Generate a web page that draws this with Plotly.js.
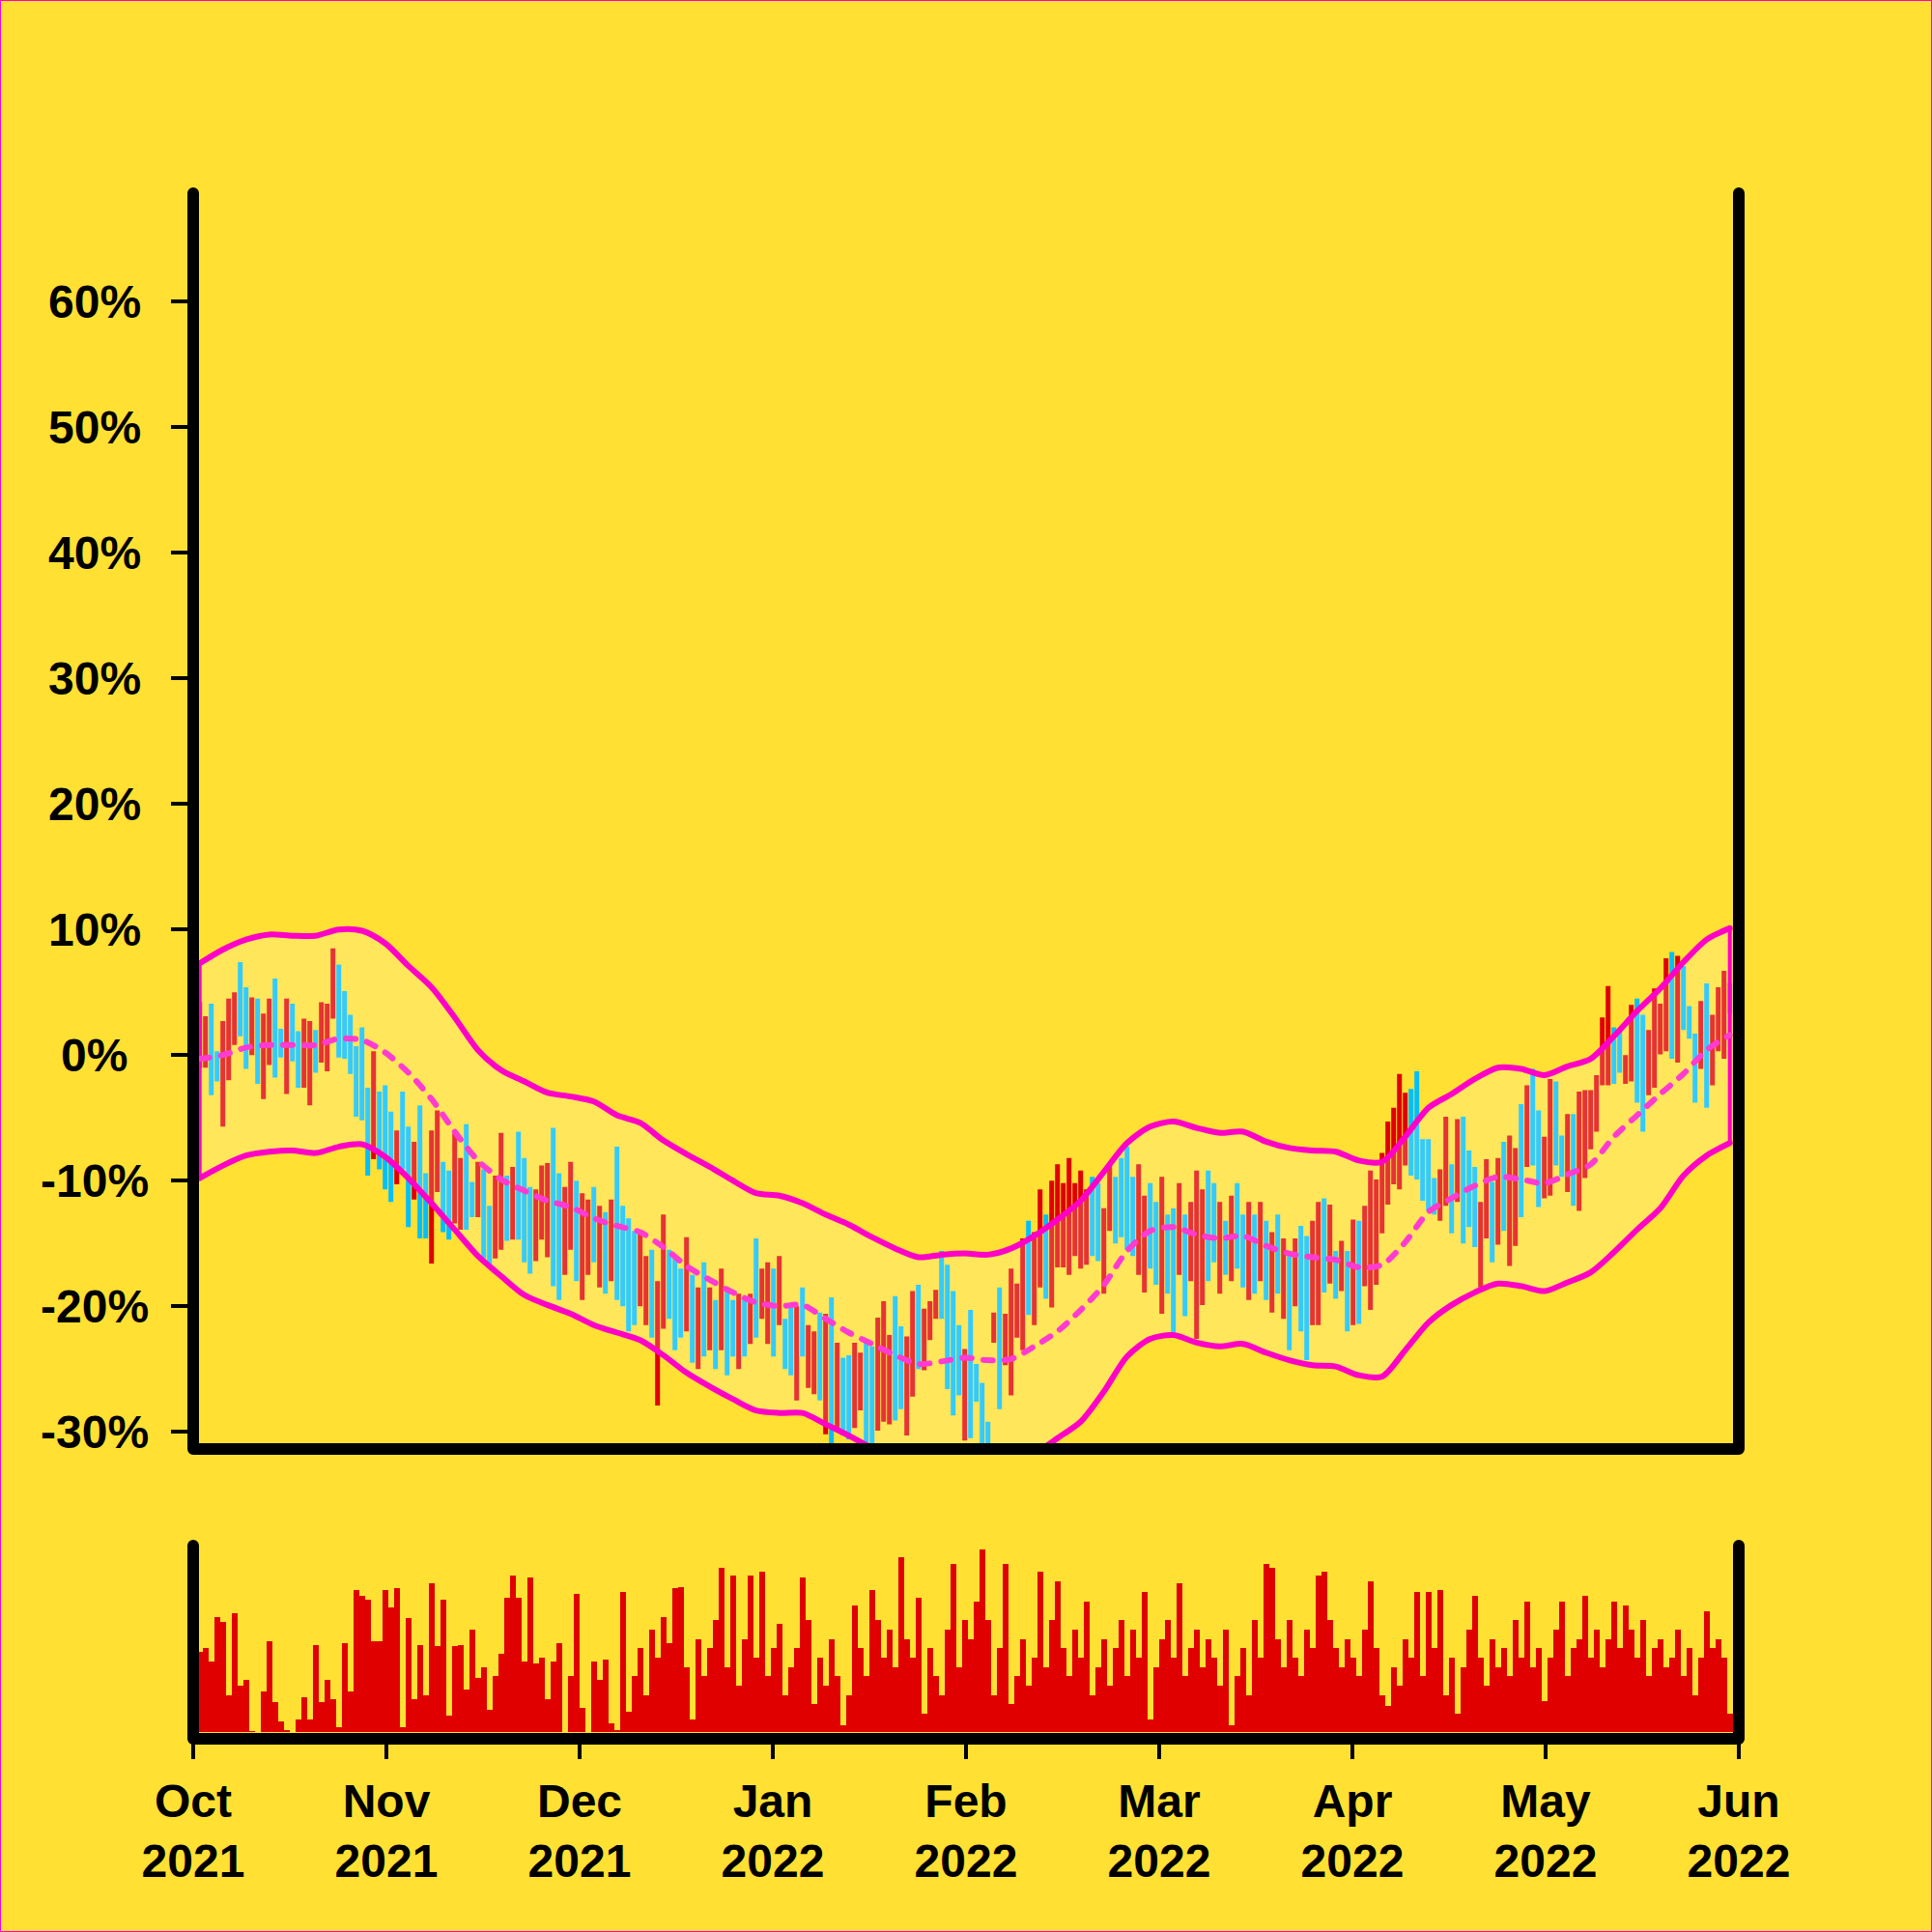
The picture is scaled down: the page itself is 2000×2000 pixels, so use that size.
<!DOCTYPE html>
<html><head><meta charset="utf-8">
<script src="https://cdn.plot.ly/plotly-3.0.1.min.js"></script>
<style>
html,body{margin:0;padding:0;background:#FFE033;}
#wrap{position:relative;width:2000px;height:2000px;}
#chart{width:2000px;height:2000px;}
#frame{position:absolute;left:0;top:0;width:2000px;height:2000px;box-sizing:border-box;border:1px solid #FF00CC;pointer-events:none;}
</style>
</head><body><div id="wrap"><div id="chart"></div><div id="frame"></div></div>
<script>
// ---------------- data (bar index 0..264) ----------------
const openP = [0.5,0.0,2.0,0.0,-1.5,-0.5,1.5,5.5,3.5,1.0,2.5,-1.0,0.5,4.0,1.5,-1.0,3.0,0.5,-1.0,-1.5,1.0,1.0,1.0,4.0,5.5,3.5,2.0,-0.5,0.5,-4.5,-6.0,-4.5,-4.5,-6.5,-9.0,-4.5,-7.0,-10.5,-6.0,-10.5,-13.5,-9.5,-9.5,-10.5,-12.0,-12.5,-7.5,-10.5,-12.0,-10.5,-12.5,-15.0,-13.0,-10.5,-13.5,-8.0,-9.5,-11.5,-15.5,-13.5,-14.5,-8.0,
 -10.5,-16,-14,-11,-18,-16.5,-11.5,-17.5,-13.5,-17,-10,-13,-14.5,-15,-19,-20.5,-16.5,-25,-20,-16.5,-17,-18,-21,-18.5,-24,-17.5,-22.5,-20.5,-22.5,-19.5,-20,-24,-20.5,-22.5,-16,-20.5,-22,-18,-21,-21.5,-21,-26.5,-19.5,-26,-26.5,-21,
 -28.5,-20.5,-28.5,-25,-25,-28.5,-27.5,-24,-24.5,-28.5,-27.5,-28,-20.5,-22.5,-29,-26,-19,-24.5,-22.5,-20.5,-16.5,-17.5,-19.5,-22,-29.5,-21.5,-25,-26.5,-29.5,-22.5,-19.5,-24,-26,-22,
 -22.5,-14,-20.5,-17.5,-13.5,-19,-16,-16,-16.5,-15,-16,-16,-10.5,-11,-18,-13.5,-10.5,-9,-8,-10.5,-16.5,-18,-11,-12.5,-19.5,-13.5,-13,-16.5,-13.5,-17,-21.5,-19,-10,-11,-18,-14,-17,-11,-13.5,-18.5,-13.5,-17,-14,-19.5,-13.5,-20,-16.5,-19,-14.5,
 -15.5,-20.5,-20,-12.5,-17.5,-16,-18.5,-16,-20.5,-14,-18,-18.5,-16,-13,-11,-9.5,-8,-7.5,-4,-3,-7.5,-8,-10,-12.5,-10.5,-9.5,-10.5,-6.5,-8.5,-10,-17.5,-13.5,-11,-14,-8,-15,-14,-5,-8,-2.5,-5.5,-10.5,-9.5,-3,-7,-10,-5.5,-11,-9,-7,-5.5,-1.5,-1.5,1.5,1.5,-2,-1,3.5,
 2,-2.5,-1.5,1,1.5,6,1,6,3.5,1,0,3.5,-1.5,1.5,1,5];
const highP = [4.2,3.1,4.1,0.3,2.7,4.5,5.0,7.4,5.4,4.6,4.5,3.3,4.5,6.1,2.1,4.5,4.1,1.9,2.9,2.7,2.0,4.2,4.1,8.5,7.2,5.1,3.2,0.7,2.2,-2.6,0.3,-2.9,-2.4,-4.5,-6.0,-2.9,-5.7,-6.9,-4.0,-9.4,-6.0,-4.4,-8.5,-9.2,-6.0,-8.2,-5.5,-10.1,-8.5,-9.1,-12.0,-9.6,-6.2,-9.6,-8.9,-6.1,-8.2,-10.5,-10.7,-8.8,-8.6,-5.8,
 -9.4,-10.5,-8.5,-10,-11,-11.5,-10.5,-12,-12.5,-11.5,-7.3,-12,-13,-14,-14,-16,-15.5,-18,-12.7,-15.5,-16,-17,-14.5,-17.5,-18.5,-16.5,-18.5,-19.5,-17,-18.5,-19.5,-19,-19.5,-19,-14.6,-17,-16.5,-17,-16,-21,-20,-20,-18.5,-21.5,-22,-20.5,
 -20.6,-19.3,-22.9,-24.1,-23.9,-22.9,-23.7,-22.8,-23.2,-20.9,-19.6,-22.3,-19.2,-21.6,-22.4,-18.8,-18.3,-20.2,-19.6,-18.7,-15.6,-16.7,-18.8,-21.5,-23.4,-20.3,-24.6,-26.1,-29.2,-20.5,-18.5,-20.6,-17.0,-18.2,
 -14.6,-13.2,-14.1,-10.7,-12.7,-10.0,-8.7,-10.2,-8.2,-10.2,-9.2,-10.7,-9.7,-10.2,-12.2,-8.7,-9.7,-8.2,-7.3,-9.7,-8.7,-11.2,-10.2,-11.7,-9.7,-12.7,-12.2,-10.2,-12.7,-11.7,-9.2,-10.7,-9.2,-10.2,-11.7,-13.2,-11.2,-10.2,-12.7,-11.7,-12.7,-11.7,-13.2,-14.1,-12.7,-14.6,-15.6,-14.6,-13.6,
 -14.4,-13.2,-11.7,-11.4,-11.9,-15.6,-14.8,-15.6,-13.1,-13.2,-12.0,-9.2,-9.9,-7.8,-5.3,-4.2,-1.5,-3.0,-2.7,-1.3,-6.7,-6.7,-9.8,-9.1,-4.9,-8.7,-5.1,-4.9,-7.6,-8.9,-11.7,-8.3,-10.1,-8.2,-6.9,-6.4,-7.4,-3.9,-2.4,-1.1,-4.4,-6.5,-1.9,-2.1,-6.4,-4.7,-4.7,-2.9,-2.8,-2.8,-1.6,3.0,5.5,2.2,2.0,0.0,4.0,4.5,
 3.2,2.0,5.3,4.1,7.7,8.2,7.9,7.1,3.9,1.7,4.3,5.7,3.2,5.4,6.7,5.7];
const lowP = [-1.0,-1.0,-3.2,-2.1,-5.7,-2.0,0.8,1.5,-1.1,0.0,-2.3,-3.5,-0.8,-1.8,-0.2,-3.1,-0.5,-2.6,-2.6,-4.0,-1.4,-0.6,-1.3,2.9,-0.2,-0.3,-1.5,-4.9,-5.2,-9.6,-8.3,-9.1,-10.7,-11.7,-10.3,-9.1,-13.7,-11.5,-14.6,-14.6,-16.6,-10.9,-14.1,-14.7,-13.4,-13.9,-13.9,-12.9,-12.9,-16.2,-16.9,-16.2,-15.5,-14.8,-14.7,-14.7,-16.5,-17.4,-16.4,-14.7,-16.1,-18.4,
 -19.5,-17.5,-15.5,-18,-19.5,-17.5,-16.5,-18.5,-19,-18,-19.5,-20,-22,-21.5,-20,-21.5,-22.5,-27.9,-21.8,-21,-23.5,-22.5,-22,-24.5,-25,-24,-23.5,-25,-23.5,-25.5,-24,-25,-24,-23,-22.5,-21,-23,-24,-21.5,-25,-25.5,-27.5,-24,-26.5,-27,-27.5,
 -30.2,-31.5,-29.8,-30.3,-30.6,-29.7,-28.3,-32,-32,-29.9,-29.2,-29.4,-29.1,-28.2,-30.3,-27.2,-25.0,-25.1,-22.7,-21.0,-21.0,-26.6,-28.7,-27.1,-30.7,-30.5,-27.6,-32,-32,-22.9,-28.2,-24.7,-27.1,-22.5,
 -23.5,-20.7,-21.5,-18.5,-19.4,-20.1,-16.9,-16.9,-17.5,-16.0,-17,-16.7,-16,-16.4,-19.0,-14,-15,-14.5,-15.5,-16,-17.5,-18.9,-17.0,-18.3,-20.6,-19,-22.1,-17.5,-20.8,-18,-22.6,-19.9,-18,-16.5,-19,-17.5,-18,-17,-18.5,-19.5,-19.0,-18.0,-19.5,-20.5,-19.0,-21.0,-23.5,-20.0,-22.0,
 -24.3,-21.5,-21.5,-18.9,-18.2,-19.4,-18.8,-22.0,-21.5,-21.4,-18.4,-20.3,-18.3,-14.2,-11.9,-10.3,-10.7,-8.8,-9.6,-9.9,-11.6,-12.4,-12.7,-13.2,-12.0,-14.2,-11.7,-15.0,-13.7,-15.3,-18.5,-14.6,-16.5,-15.1,-14.0,-16.8,-15.2,-12.9,-8.9,-8.8,-12.1,-11.4,-11.2,-8.8,-9.7,-10.9,-12.0,-12.4,-9.8,-7.5,-6.1,-2.4,-2.4,-2.3,-1.4,-2.3,-2.1,-3.8,
 -6.1,-3.2,-2.6,0.05,0.3,-0.3,-0.6,2.0,1.3,-3.8,-1.1,-4.2,-2.4,0.3,-0.3,3.3];
const closeP = [2.5,2.0,-0.5,-1.6,1.0,3.0,3.5,2.5,0.5,3.5,-0.5,2.0,3.5,0.5,0.5,2.5,1.0,-1.5,1.5,1.0,-0.5,3.0,3.0,7.0,2.0,1.5,-0.5,-3.5,-3.5,-8.0,-1.5,-7.5,-9.0,-10.0,-7.0,-7.5,-12.0,-8.0,-12.5,-13.5,-8.0,-6.0,-13.0,-13.5,-8.0,-9.5,-12.0,-12.5,-9.5,-15.0,-16.0,-11.0,-8.0,-13.5,-10.0,-13.0,-15.0,-16.0,-12.0,-10.0,-10.0,-16.5,
 -18,-12,-10,-16.5,-13,-13,-15.5,-14,-18,-13,-18,-19,-20.5,-20.5,-15.5,-17.5,-21.5,-19.5,-15,-20,-22.5,-21.5,-16,-23.5,-20,-23,-20,-24,-18.5,-24.5,-23.5,-20.5,-23.5,-20,-21.5,-18,-18,-23,-17,-24.5,-24.5,-21.5,-23.5,-22.5,-23.5,-26.5,
 -22,-29,-24,-29.5,-29.5,-24,-25,-30,-30.5,-22.5,-21.5,-23.5,-27.5,-27,-24,-20,-24,-21,-20,-19.5,-20,-25.5,-27.5,-26.5,-24.5,-29.5,-27,-31,-31.5,-21,-27,-21.5,-18.5,-19,
 -16,-20,-15,-12,-18.5,-11.5,-10,-11.5,-9.5,-11,-10.5,-12,-15,-15.5,-13,-9.5,-14,-14,-14.5,-15,-10,-12,-16,-17.5,-11,-18,-21,-11.5,-20,-13,-10.5,-12,-17,-15.5,-13,-17,-12,-16,-18,-12.5,-18,-13,-19,-15,-18,-15.5,-22.5,-15.5,-21,
 -23,-14.5,-13,-17.5,-13,-19,-15.5,-21.5,-14,-20.5,-13,-11,-11,-9,-6.5,-5.5,-3,-4,-8.5,-8.5,-11,-11.5,-12.5,-10,-6,-13.5,-6.5,-13.5,-12.5,-14.5,-12.5,-9.5,-15.5,-9.5,-13,-8,-9,-11.5,-3.5,-7.5,-11,-7.5,-3.5,-8,-9.5,-6,-11,-4,-4,-3.5,-2.5,2.5,4.5,-1.5,-0.5,-0.5,3,-2.5,
 -5,1,4,3,6.5,1,6,3,2,-3,3,-2.5,2,4.5,5.5,4];

const volume = [43,45,38,62,59,20,64,25,28,0.5,0,22,49,16,6,1,0,7,19,7,47,16,28,18,3,48,22,76,73,71,49,49,76,67,77,3,61,18,47,20,80,46,71,9,46,47,23,55,29,35,12,30,42,72,84,72,38,83,37,40,18,38,48,0,30,74,13,0,38,28,39,5,1,75,11,
 30,45,20,55,40,62,48,77,78,35, 7,50,30,45,60,88,35,84,25,50, 84,40,86,30,45,58,20,35,45,83, 60,15,40,25,50,30,4,20,68,45,
 30,76,60,40,55,35,94,50,40,72, 10,45,30,20,55,90,35,60,50,70, 98,60,20,45,90,15,30,50,25,40, 86,35,60,81,45,30,55,40,70,20,
 35,50,25,45,60,30,55,40,75,7, 35,50,60,40,80,30,45,55,35,50, 40,25,55,4,30,45,20,60,40,90, 88,50,35,60,40,30,55,45,84,86,
 60,45,35,50,40,30,55,81,45,20, 14,35,25,50,40,75,30,75,45,76, 20,40,10,35,55,73,40,25,50,35, 45,30,60,40,70,35,45,17,40,55,
 70,30,45,50,73,40,55,35,50,70, 45,68,55,40,60,30,45,50,35,40, 55,30,45,20,40,65,45,50,40,10];

const bandIdx = [0,4,8,12,16,20,24,28,32,36,40,44,48,52,56,60,64,68,72,76,80,84,88,92,96,100,104,108,112,116,120,124,128,132,136,140,144,148,152,156,160,164,168,172,176,180,184,188,192,196,200,204,208,212,216,220,224,228,232,236,240,244,248,252,256,260,264];
const bandMid = [-0.3,0.0,0.6,0.8,0.8,0.8,1.3,1.2,0.2,-1.4,-3.5,-6.1,-8.4,-9.9,-10.8,-11.6,-12.1,-13.0,-13.6,-14.1,-15.3,-16.8,-17.9,-18.9,-19.7,-20.0,-19.9,-21.0,-22.1,-23.0,-23.9,-24.6,-24.4,-24.1,-24.3,-24.2,-23.2,-22.0,-20.3,-18.3,-15.6,-14.0,-13.7,-14.3,-14.6,-14.4,-15.2,-15.8,-16.1,-16.3,-16.9,-16.7,-14.9,-12.5,-11.4,-10.4,-9.7,-9.9,-10.2,-9.5,-8.7,-6.5,-4.8,-3.1,-1.5,0.4,1.6];
const bandUpper = [7.3,8.4,9.2,9.6,9.5,9.5,10.0,9.9,8.9,7.1,5.4,3.0,0.4,-1.2,-2.1,-3.0,-3.3,-3.7,-4.8,-5.4,-6.8,-7.9,-8.9,-10.0,-11.0,-11.2,-11.8,-12.7,-13.5,-14.5,-15.4,-16.1,-15.9,-15.8,-15.9,-15.4,-14.4,-13.1,-11.6,-9.3,-7.0,-5.7,-5.3,-5.8,-6.2,-6.1,-6.9,-7.4,-7.6,-7.7,-8.4,-8.5,-6.5,-4.2,-3.1,-1.9,-1.0,-1.1,-1.6,-0.9,-0.3,1.5,3.5,5.3,7.4,9.2,10.1];
const bandLower = [-9.8,-8.8,-8.0,-7.7,-7.6,-7.8,-7.3,-7.1,-8.1,-9.8,-11.8,-13.9,-16.0,-17.6,-19.1,-19.9,-20.6,-21.5,-22.1,-22.7,-23.9,-25.3,-26.4,-27.4,-28.3,-28.5,-28.5,-29.4,-30.3,-31.3,-32.2,-33.0,-33.0,-32.7,-32.8,-32.7,-31.8,-30.5,-29.2,-26.8,-24.0,-22.6,-22.3,-22.9,-23.2,-23.0,-23.7,-24.3,-24.7,-24.8,-25.5,-25.6,-23.5,-21.3,-19.9,-18.9,-18.2,-18.4,-18.8,-18.1,-17.3,-15.7,-13.9,-12.2,-9.6,-8.0,-7.0];

const xTickVals = [-1.117,32.217,65.55,98.883,132.217,165.55,198.883,232.217,265.55];
const xTickText = ['Oct<br>2021','Nov<br>2021','Dec<br>2021','Jan<br>2022','Feb<br>2022','Mar<br>2022','Apr<br>2022','May<br>2022','Jun<br>2022'];
const yTickVals = [-30,-20,-10,0,10,20,30,40,50,60];
const yTickText = ['-30%','-20%','-10%','0%','10%','20%','30%','40%','50%','60%'];

// ---------------- chart ----------------
const idx = openP.map((_, i) => i);
const nB = bandIdx.length - 1;
const FONT = {family:'Liberation Sans, Arial, Helvetica, sans-serif', size:48, color:'#000000', weight:'bold'};
const MAG = '#FF00C8';

const traces = [
  {type:'bar', x:idx, y:volume, xaxis:'x', yaxis:'y2', marker:{color:'#E00000', line:{width:0}}, hoverinfo:'skip'},
  {type:'ohlc', x:idx, open:openP, high:highP, low:lowP, close:closeP, xaxis:'x2', yaxis:'y',
   increasing:{line:{color:'#E00000', width:5}}, decreasing:{line:{color:'#00BFFF', width:5}}, tickwidth:0.3, hoverinfo:'skip'},
  {type:'scatter', mode:'lines', x:bandIdx.concat(bandIdx.slice().reverse()), y:bandUpper.concat(bandLower.slice().reverse()),
   xaxis:'x2', yaxis:'y', fill:'toself', fillcolor:'rgba(255,255,255,0.2)', line:{width:0, color:'rgba(0,0,0,0)'}, hoverinfo:'skip'},
  {type:'scatter', mode:'lines', x:bandIdx, y:bandUpper, xaxis:'x2', yaxis:'y', line:{color:MAG, width:6, shape:'spline', smoothing:0.8}, hoverinfo:'skip'},
  {type:'scatter', mode:'lines', x:bandIdx, y:bandLower, xaxis:'x2', yaxis:'y', line:{color:MAG, width:6, shape:'spline', smoothing:0.8}, hoverinfo:'skip'},
  {type:'scatter', mode:'lines', x:[bandIdx[0], bandIdx[0], null, bandIdx[nB], bandIdx[nB]],
   y:[bandUpper[0], bandLower[0], null, bandUpper[nB], bandLower[nB]], xaxis:'x2', yaxis:'y', line:{color:MAG, width:4}, connectgaps:false, hoverinfo:'skip'},
  {type:'scatter', mode:'lines', x:bandIdx, y:bandMid, xaxis:'x2', yaxis:'y',
   line:{color:'#FF3BD2', width:6, dash:'10px,12px', shape:'spline', smoothing:0.8}, hoverinfo:'skip'}
];

const AX = {showgrid:false, zeroline:false, showline:false};
const yLabels = yTickVals.map(function(v, k){
  return {xref:'paper', yref:'y', x:-0.064, y:v, text:yTickText[k], showarrow:false, xanchor:'center', yanchor:'middle', font:FONT};
});

const layout = {
  width:2000, height:2000,
  margin:{l:200, r:200, t:200, b:200, pad:0},
  paper_bgcolor:'#FFE033', plot_bgcolor:'#FFE033',
  showlegend:false, bargap:0,
  font:FONT,
  xaxis:Object.assign({}, AX, {anchor:'y2', domain:[0,1], range:[xTickVals[0], xTickVals[8]], tickmode:'array', tickvals:xTickVals, ticktext:xTickText,
         ticks:'outside', ticklen:20, tickwidth:4, tickcolor:'#000', tickfont:FONT, ticklabelstandoff:2, rangeslider:{visible:false}}),
  xaxis2:Object.assign({}, AX, {anchor:'y', matches:'x', showticklabels:false, ticks:'', rangeslider:{visible:false}}),
  yaxis:Object.assign({}, AX, {domain:[0.1875,1], range:[-31.37,68.63], tickmode:'array', tickvals:yTickVals,
         showticklabels:false, ticks:'outside', ticklen:22, tickwidth:4, tickcolor:'#000'}),
  yaxis2:Object.assign({}, AX, {domain:[0,0.125], range:[-3.4,100], showticklabels:false, ticks:''}),
  annotations:yLabels,
  shapes:[
    {type:'path', xref:'paper', yref:'paper', path:'M0,1L0,0.1875L1,0.1875L1,1', line:{color:'#000', width:12}, fillcolor:'rgba(0,0,0,0)', layer:'above'},
    {type:'path', xref:'paper', yref:'paper', path:'M0,0.125L0,0L1,0L1,0.125', line:{color:'#000', width:12}, fillcolor:'rgba(0,0,0,0)', layer:'above'}
  ]
};

Plotly.newPlot('chart', traces, layout, {displayModeBar:false, staticPlot:true}).then(function(){
  document.querySelectorAll('.shapelayer path').forEach(function(p){ p.style.strokeLinecap='round'; p.style.strokeLinejoin='round'; });
  document.querySelectorAll('.scatterlayer .js-line').forEach(function(p){ p.style.strokeLinecap='round'; p.style.strokeLinejoin='round'; });
});
</script></body></html>
